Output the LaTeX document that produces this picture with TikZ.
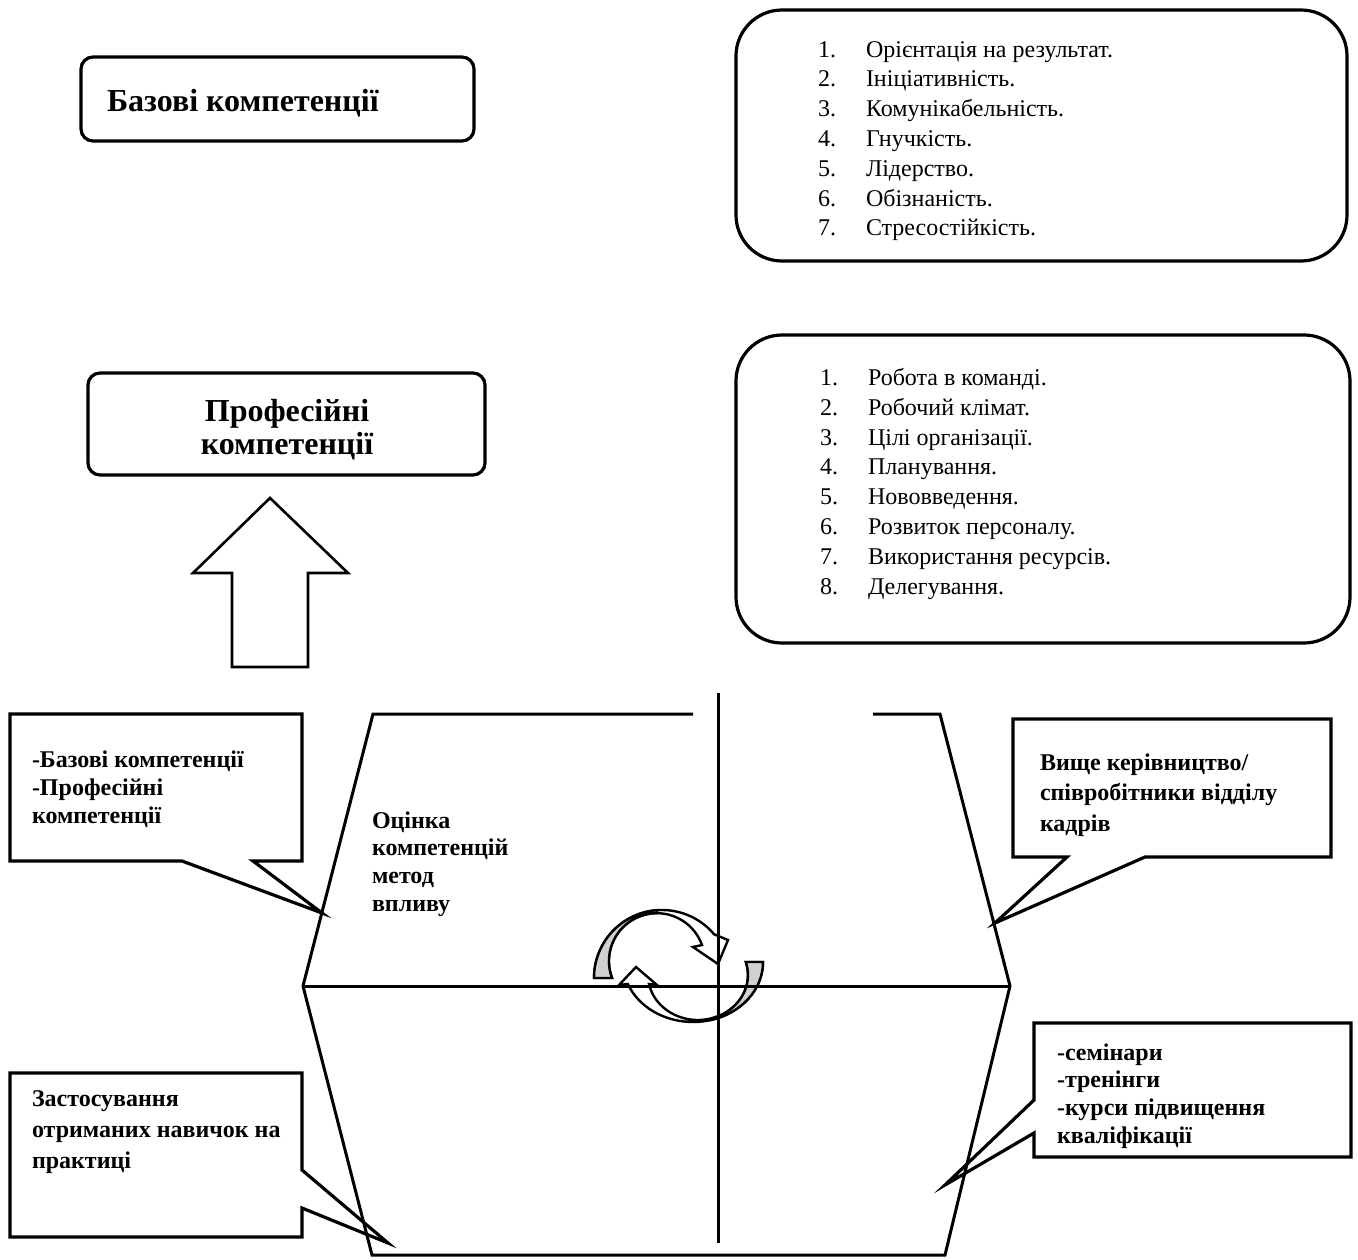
\documentclass[tikz,border=0pt]{standalone}
\usepackage{fontspec}
\setmainfont{Liberation Serif}
\definecolor{twistgrey}{HTML}{D0D0D0}

\begin{document}
\begin{tikzpicture}[
  x=1pt,
  y=1pt,
  every node/.style={inner sep=0pt, outer sep=0pt},
  titlebox/.style={draw, line width=3.2pt, rounded corners=12pt},
  listbox/.style={draw, line width=3.2pt, rounded corners=46pt},
  titletext/.style={font=\bfseries\fontsize{32}{33}\selectfont},
  listtext/.style={font=\fontsize{24}{29.8}\selectfont, align=left, anchor=base west},
  notetext/.style={font=\bfseries\fontsize{24}{27.6}\selectfont, align=left, anchor=base west},
  notebox/.style={draw, fill=white, line width=3.2pt, line join=miter},
  frame/.style={line width=3pt},
  bigarrow/.style={draw, fill=white, line width=2.6pt, line join=miter},
  turnarrow/.style={draw, fill=white, line width=2.4pt, line join=miter},
  turnback/.style={draw, fill=twistgrey, line width=2.4pt, line join=miter}
]
  % ---- page, in pixels of the reference (y grows downwards as -y)
  %      multi-line nodes sit on the baseline of their last line
  \useasboundingbox (0,0) rectangle (1358,-1260);

  % ---- the two title boxes ---------------------------------------------
  \node[titlebox, minimum width=393, minimum height=84] (basebox) at (277.5,-99) {};
  \node[titletext, anchor=base west] (basetitle) at (107,-112) {Базові компетенції};
  \node[titlebox, minimum width=397, minimum height=102] (profbox) at (286.5,-424) {};
  \node[titletext, align=center, anchor=base] (proftitle) at (287,-454)
    {Професійні\\компетенції};

  % ---- the two lists ---------------------------------------------------
  \node[listbox, minimum width=611, minimum height=251] (basecard) at (1041.5,-135.5) {};
  \node[listtext] (baselist) at (818,-236) {%
    \makebox[48pt][l]{1.}Орієнтація на результат.\\
    \makebox[48pt][l]{2.}Ініціативність.\\
    \makebox[48pt][l]{3.}Комунікабельність.\\
    \makebox[48pt][l]{4.}Гнучкість.\\
    \makebox[48pt][l]{5.}Лідерство.\\
    \makebox[48pt][l]{6.}Обізнаність.\\
    \makebox[48pt][l]{7.}Стресостійкість.};
  \node[listbox, minimum width=614, minimum height=308] (profcard) at (1043,-489) {};
  \node[listtext] (proflist) at (820,-594) {%
    \makebox[48pt][l]{1.}Робота в команді.\\
    \makebox[48pt][l]{2.}Робочий клімат.\\
    \makebox[48pt][l]{3.}Цілі організації.\\
    \makebox[48pt][l]{4.}Планування.\\
    \makebox[48pt][l]{5.}Нововведення.\\
    \makebox[48pt][l]{6.}Розвиток персоналу.\\
    \makebox[48pt][l]{7.}Використання ресурсів.\\
    \makebox[48pt][l]{8.}Делегування.};

  % ---- block arrow up --------------------------------------------------
  \draw[bigarrow] (270,-498) -- (348,-573) -- (308,-573) -- (308,-667)
    -- (232,-667) -- (232,-573) -- (193,-573) -- cycle;

  % ---- callouts --------------------------------------------------------
  \draw[notebox] (10,-714) -- (302,-714) -- (302,-861) -- (253,-861)
    -- (322,-913) -- (182,-861) -- (10,-861) -- cycle;
  \draw[notebox] (1013,-719) -- (1331,-719) -- (1331,-857) -- (1145,-857)
    -- (995,-923) -- (1067,-857) -- (1013,-857) -- cycle;
  \draw[notebox] (10,-1073) -- (302,-1073) -- (302,-1170) -- (388,-1243)
    -- (302,-1208) -- (302,-1237) -- (10,-1237) -- cycle;
  \draw[notebox] (1034,-1023) -- (1351,-1023) -- (1351,-1157) -- (1034,-1157)
    -- (1034,-1133) -- (945,-1185) -- (1034,-1100) -- cycle;

  % ---- the turning arrows ----------------------------------------------
  \draw[turnarrow] (594,-978) arc[start angle=180, end angle=40, radius=68]
    -- (728,-940) -- (718,-964) -- (693,-947) -- (702,-945)
    arc[start angle=19.6, end angle=200.7, radius=47.9] -- cycle;
  \draw[turnback] (594,-978) arc[start angle=180, end angle=94.4, radius=68]
    -- (656.8,-913.2) arc[start angle=90, end angle=200.7, radius=47.9] -- cycle;
  \draw[turnarrow] (763,-962) arc[start angle=0, end angle=-158.5, x radius=70, y radius=60]
    -- (619,-985) -- (636,-967) -- (657,-985) -- (649,-984)
    arc[start angle=-168.5, end angle=16.8, x radius=50, y radius=45] -- cycle;
  \draw[turnback] (763,-962) arc[start angle=0, end angle=-75, x radius=70, y radius=60]
    -- (710.9,-1018.5) arc[start angle=-75, end angle=16.8, x radius=50, y radius=45] -- cycle;

  % ---- frame and cross -------------------------------------------------
  \draw[frame] (693,-714) -- (373,-714) -- (303,-986) -- (372,-1255)
    -- (945,-1255) -- (1010,-986) -- (940,-714) -- (873,-714);
  \draw[frame] (303,-986) -- (1010,-986);
  \draw[frame] (718,-693) -- (718,-1243);

  % ---- texts -----------------------------------------------------------
  \node[notetext] (kindnote) at (32,-823)
    {-Базові компетенції\\-Професійні\\компетенції};
  \node[notetext] (ratenote) at (372,-911)
    {Оцінка\\компетенцій\\метод\\впливу};
  \node[notetext, font=\bfseries\fontsize{24}{30.5}\selectfont] (whonote) at (1040,-831)
    {Вище керівництво/\\співробітники відділу\\кадрів};
  \node[notetext, font=\bfseries\fontsize{24}{31}\selectfont] (usenote) at (32,-1168)
    {Застосування\\отриманих навичок на\\практиці};
  \node[notetext] (waynote) at (1057,-1143)
    {-семінари\\-тренінги\\-курси підвищення\\кваліфікації};
\end{tikzpicture}
\end{document}
